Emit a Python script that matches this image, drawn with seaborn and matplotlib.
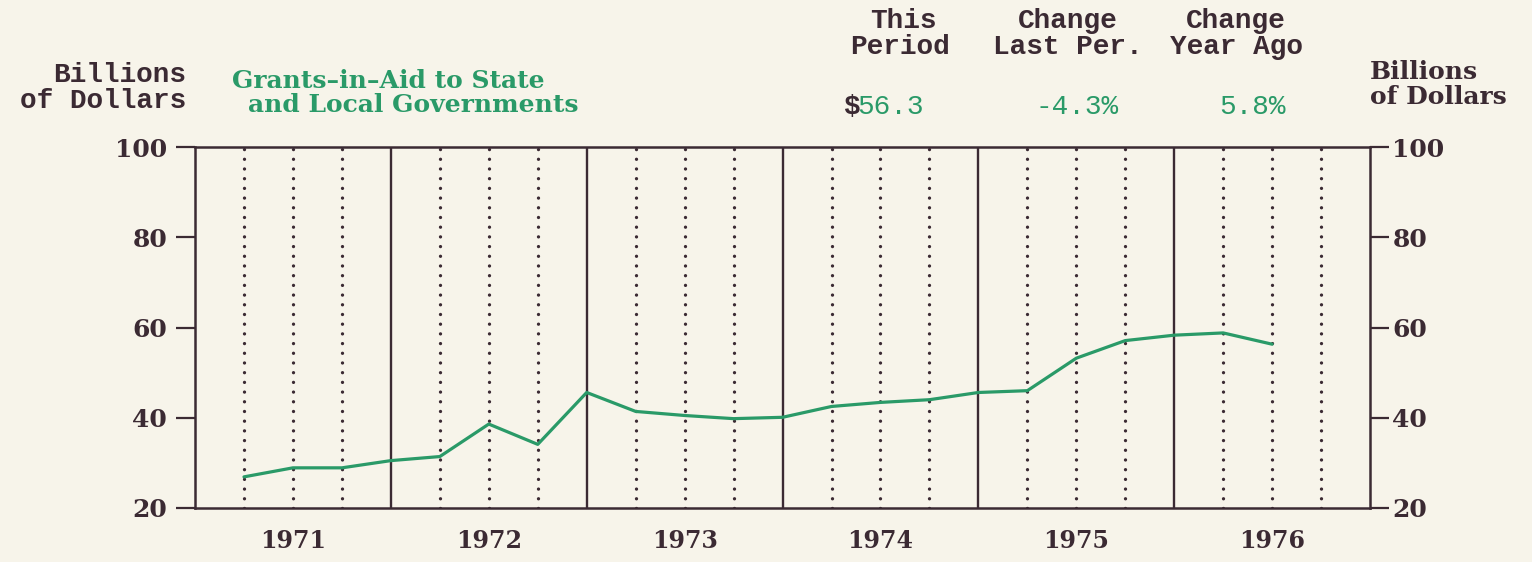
import numpy as np
import pandas as pd
import matplotlib.pyplot as plt
import seaborn as sns

# Quarterly values (billions of dollars)
quarters = list(range(1, 23))
grants = [26.9, 28.9, 28.9, 30.5, 31.4, 38.6, 34.1, 45.6, 41.4, 40.5, 39.8,
          40.1, 42.5, 43.4, 44.0, 45.6, 46.0, 53.2, 57.1, 58.3, 58.8, 56.3]
years = ['1971', '1972', '1973', '1974', '1975', '1976']
y_ticks = [20, 40, 60, 80, 100]

this_period = '56.3'
change_last = '-4.3%'
change_year = '5.8%'

bg = '#f7f4ea'
ink = '#3b2a33'
green = '#2a9a68'

sns.set_style('white')
plt.rcParams['font.family'] = ['DejaVu Serif']

fig = plt.figure(figsize=(15.32, 5.62), dpi=100, facecolor=bg)
ax = fig.add_axes([0.1273, 0.0961, 0.8943 - 0.1273, 0.7384 - 0.0961])
ax.set_facecolor(bg)

n_q = len(years) * 4
# quarter grid: dotted lines, solid at year boundaries
for q in range(1, n_q):
    if q % 4 == 0:
        ax.axvline(q, color=ink, lw=1.7, zorder=1)
    else:
        ax.axvline(q, color=ink, lw=2.4, ls=(0, (0.01, 2.9)),
                   dash_capstyle='round', zorder=1)

df = pd.DataFrame({'quarter': quarters, 'value': grants})
sns.lineplot(data=df, x='quarter', y='value', color=green, lw=2.3, ax=ax, zorder=3)

ax.set_xlim(0, n_q)
ax.set_ylim(20, 100)
ax.set_xticks([4 * i + 2 for i in range(len(years))])
ax.set_xticklabels(years)
ax.set_yticks(y_ticks)
ax.set_xlabel('')
ax.set_ylabel('')
for s in ax.spines.values():
    s.set_color(ink)
    s.set_linewidth(1.8)
ax.tick_params(axis='x', length=0, pad=15, labelsize=17, labelcolor=ink)
ax.tick_params(axis='y', direction='out', length=14, width=1.6, color=ink,
               pad=6, labelsize=18, labelcolor=ink)
for lbl in ax.get_xticklabels() + ax.get_yticklabels():
    lbl.set_fontweight('bold')

ax2 = ax.twinx()
ax2.set_ylim(20, 100)
ax2.set_yticks(y_ticks)
ax2.tick_params(axis='y', direction='out', length=14, width=1.6, color=ink,
                pad=2, labelsize=18, labelcolor=ink)
for lbl in ax2.get_yticklabels():
    lbl.set_fontweight('bold')
for s in ax2.spines.values():
    s.set_visible(False)

mono = ['Liberation Mono', 'DejaVu Sans Mono']
W, H = 1532, 562


def px(x, y):
    return x / W, 1 - y / H


def mtext(x, y, s, **kw):
    kw.setdefault('color', ink)
    kw.setdefault('fontweight', 'bold')
    fig.text(*px(x, y), s, family=mono, fontsize=20, va='center', **kw)


mtext(186, 75, 'Billions', ha='right')
mtext(186, 101, 'of Dollars', ha='right')

fig.text(*px(232, 81), 'Grants\u2013in\u2013Aid to State', fontsize=18,
         fontweight='bold', color=green, ha='left', va='center')
fig.text(*px(248, 105), 'and Local Governments', fontsize=18,
         fontweight='bold', color=green, ha='left', va='center')

mtext(903, 21, 'This', ha='center')
mtext(900, 47, 'Period', ha='center')
mtext(1068, 21, 'Change', ha='center')
mtext(1068, 47, 'Last Per.', ha='center')
mtext(1236, 21, 'Change', ha='center')
mtext(1236, 47, 'Year Ago', ha='center')

mtext(843, 107, '$', ha='left')
mtext(857, 107, this_period, ha='left', color=green, fontweight='normal')
mtext(1077, 107, change_last, ha='center', color=green, fontweight='normal')
mtext(1252, 107, change_year, ha='center', color=green, fontweight='normal')

fig.text(*px(1370, 72), 'Billions', fontsize=18, fontweight='bold',
         color=ink, ha='left', va='center')
fig.text(*px(1370, 97), 'of Dollars', fontsize=18, fontweight='bold',
         color=ink, ha='left', va='center')

fig.savefig('out.png', dpi=100, facecolor=bg)
